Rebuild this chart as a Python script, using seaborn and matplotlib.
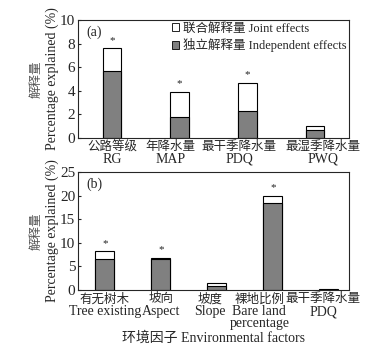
import numpy as np
import pandas as pd
import matplotlib
matplotlib.use("Agg")
import matplotlib.pyplot as plt
import seaborn as sns
from matplotlib.patches import Patch

sns.set_style("ticks")
plt.rcParams['font.family'] = ['Liberation Serif', 'Noto Sans CJK SC']
plt.rcParams['font.size'] = 10

# panel (a)
cn_a = ["公路等级", "年降水量", "最干季降水量", "最湿季降水量"]
en_a = ["RG", "MAP", "PDQ", "PWQ"]
total_a = [7.6, 3.9, 4.7, 1.0]
indep_a = [5.7, 1.8, 2.3, 0.7]
sig_a = [True, True, True, False]

# panel (b)
cn_b = ["有无树木", "坡向", "坡度", "裸地比例", "最干季降水量"]
en_b = ["Tree existing", "Aspect", "Slope", "Bare land\npercentage", "PDQ"]
total_b = [8.2, 6.8, 1.4, 20.0, 0.2]
indep_b = [6.6, 6.5, 0.9, 18.4, 0.1]
sig_b = [True, True, False, True, False]

grey = "#808080"
cn_size = 9

fig = plt.figure(figsize=(3.72, 3.56), dpi=100)
ax1 = fig.add_axes([78/372, 1-138/356, 271/372, 118/356])
ax2 = fig.add_axes([78/372, 1-290/356, 271/372, 118/356])


def panel(ax, cn, en, total, indep, sig, width, ymax, step, tag, off, xlim, shift):
    df = pd.DataFrame({"cat": en, "total": total, "indep": indep})
    sns.barplot(data=df, x="cat", y="total", color="white", edgecolor="black",
                linewidth=0.8, width=width, ax=ax, saturation=1)
    sns.barplot(data=df, x="cat", y="indep", color=grey, edgecolor="black",
                linewidth=0.8, width=width, ax=ax, saturation=1)
    for i, s in enumerate(sig):
        if s:
            ax.text(i, total[i] + off, "*", ha="center", va="bottom", fontsize=8)
    ax.set_xlim(*xlim)
    ax.set_ylim(0, ymax)
    ax.set_yticks(np.arange(0, ymax + 0.1, step))
    ax.set_xticks(range(len(en)))
    ax.set_xticklabels([])
    ax.set_xlabel("")
    ax.set_ylabel("Percentage explained (%)", fontsize=10, labelpad=1)
    ax.text(-41/271, 0.5, "解释量", transform=ax.transAxes, rotation=90,
            ha="center", va="center", fontsize=cn_size, color="#555555")
    ax.tick_params(axis="y", direction="in", length=2, pad=2, labelsize=11)
    ax.tick_params(axis="x", length=0)
    tr = ax.get_xaxis_transform()
    for i in range(len(en)):
        ax.text(i + shift[i], -3/118, cn[i], transform=tr, ha="center", va="top",
                fontsize=cn_size)
        ax.text(i + shift[i], -15/118, en[i], transform=tr, ha="center", va="top",
                fontsize=10, linespacing=0.85)
    ax.text(0.03, 0.95, tag, transform=ax.transAxes, ha="left", va="top", fontsize=10)
    for sp in ax.spines.values():
        sp.set_visible(True)
        sp.set_linewidth(0.8)


panel(ax1, cn_a, en_a, total_a, indep_a, sig_a, 0.27, 10, 2, "(a)", 0.3,
      (-0.5, 3.5), [0, -0.14, -0.12, 0.12])
panel(ax2, cn_b, en_b, total_b, indep_b, sig_b, 0.34, 25, 5, "(b)", 0.7,
      (-0.48, 4.36), [0, 0, -0.12, -0.24, -0.1])

handles = [Patch(facecolor="white", edgecolor="black", linewidth=0.6),
           Patch(facecolor=grey, edgecolor="black", linewidth=0.6)]
ax1.legend(handles, ["联合解释量 Joint effects", "独立解释量 Independent effects"],
           loc="upper right", frameon=False, fontsize=9, handlelength=0.6,
           handleheight=0.6, handletextpad=0.3, borderaxespad=0.1,
           labelspacing=0.3, borderpad=0.1)

fig.text(213/372, 1-338/356, "环境因子 Environmental factors", ha="center",
         va="center", fontsize=10)

fig.savefig("out.png", dpi=100)
